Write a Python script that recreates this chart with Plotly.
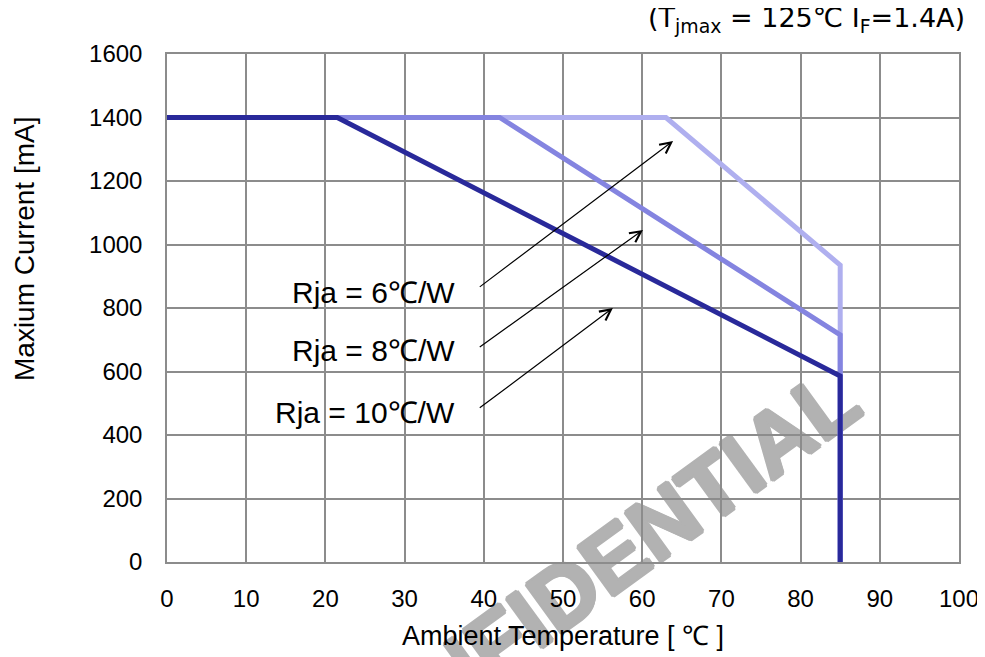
import plotly.graph_objects as go

# ---- data ----
series_names = ["Rja = 6℃/W", "Rja = 8℃/W", "Rja = 10℃/W"]
temp_6 = [0, 63, 85, 85]
curr_6 = [1400, 1400, 935, 0]
temp_8 = [0, 42, 85, 85]
curr_8 = [1400, 1400, 715, 0]
temp_10 = [0, 21.5, 85, 85]
curr_10 = [1400, 1400, 586, 0]
line_colors = ["#afafef", "#8484e0", "#29299a"]

# label / arrow anchor points (data coords)
label_x = 36.6
label_y = [850, 665, 472]
arrow_tail = [(39.3, 863), (39.3, 674), (39.3, 482)]
arrow_head = [(63.9, 1326), (60.1, 1046), (56.3, 800)]

x_ticks = list(range(0, 101, 10))
y_ticks = list(range(0, 1601, 200))

FONT = "Liberation Sans, Arial, sans-serif"
GRID = "#8c8c8c"
WM = "#b2b2b2"

fig = go.Figure()
for xs, ys, col, nm in [(temp_6, curr_6, line_colors[0], series_names[0]),
                        (temp_8, curr_8, line_colors[1], series_names[1]),
                        (temp_10, curr_10, line_colors[2], series_names[2])]:
    fig.add_trace(go.Scatter(x=xs, y=ys, mode="lines", name=nm,
                             line=dict(color=col, width=5)))

annotations = []
for nm, ly in zip(series_names, label_y):
    annotations.append(dict(x=label_x, y=ly, xref="x", yref="y", text=nm,
                            showarrow=False, xanchor="right", yanchor="middle",
                            font=dict(family=FONT, size=30, color="black")))
for (tx, ty), (hx, hy) in zip(arrow_tail, arrow_head):
    annotations.append(dict(x=hx, y=hy, ax=tx, ay=ty, xref="x", yref="y",
                            axref="x", ayref="y", text="", showarrow=True,
                            arrowhead=5, arrowsize=1.8, arrowwidth=1.2,
                            arrowcolor="black", standoff=0))
annotations.append(dict(x=1.0101, y=1.067, xref="paper", yref="paper",
                        text="(T<sub>jmax</sub> = 125℃ I<sub>F</sub>=1.4A)",
                        showarrow=False, xanchor="right", yanchor="middle",
                        font=dict(family="DejaVu Sans, sans-serif", size=27, color="black")))
# y-axis title (placed above centre as in the original)
annotations.append(dict(x=-0.1806, y=0.618, xref="paper", yref="paper",
                        text="Maxium Current [mA]", textangle=-90, showarrow=False,
                        xanchor="center", yanchor="middle",
                        font=dict(family=FONT, size=28, color="black")))

wm_shadow = ", ".join(f"{dx}px {dy}px 0 {WM}" for dx, dy in
                      [(2, 0), (-2, 0), (0, 2), (0, -2), (1, 1), (-1, -1), (1, -1), (-1, 1)])

# page body has an 8px margin, so margins are offset to keep the plot box in place
fig.update_layout(
    width=985, height=657,
    margin=dict(l=159, r=34, t=46, b=103),
    paper_bgcolor="white",
    plot_bgcolor="rgba(0,0,0,0)",
    showlegend=False,
    annotations=annotations,
    shapes=[dict(type="rect", xref="paper", yref="paper",
                 x0=0.419, x1=0.619, y0=-0.0736, y1=0.0264,
                 line=dict(width=0), fillcolor="rgba(0,0,0,0)", layer="below",
                 label=dict(text="CONFIDENTIAL", textangle=-36,
                            textposition="middle center",
                            font=dict(family=FONT, size=88, color=WM,
                                      weight="bold", shadow=wm_shadow)))],
)
fig.update_xaxes(range=[0, 100], tickvals=x_ticks, showgrid=True, gridcolor=GRID,
                 gridwidth=1.5, showline=True, mirror=True, linecolor=GRID, linewidth=1.5,
                 zeroline=False, ticks="", ticklabelstandoff=14, automargin=False,
                 tickfont=dict(family=FONT, size=24, color="black"),
                 title=dict(text="Ambient Temperature [ ℃ ]", standoff=16,
                            font=dict(family=FONT, size=27, color="black")))
fig.update_yaxes(range=[0, 1600], tickvals=y_ticks, showgrid=True, gridcolor=GRID,
                 gridwidth=1.5, showline=True, mirror=True, linecolor=GRID, linewidth=1.5,
                 zeroline=False, ticks="", ticklabelstandoff=18, automargin=False,
                 tickfont=dict(family=FONT, size=24, color="black"))

fig.write_html("out.html")
